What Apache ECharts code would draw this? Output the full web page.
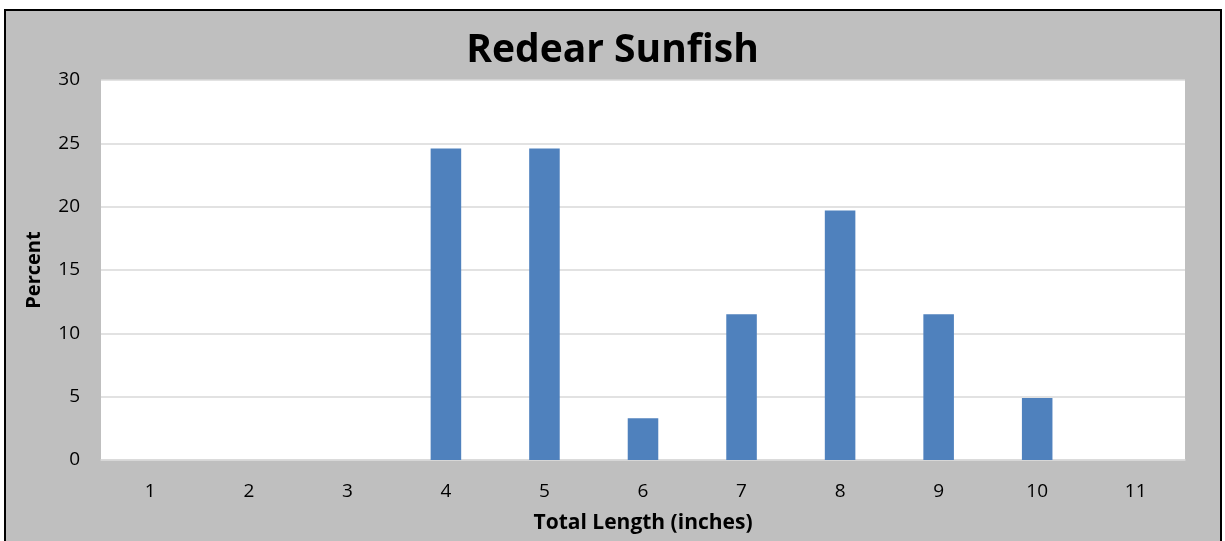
<!DOCTYPE html>
<html>
<head>
<meta charset="utf-8">
<script src="https://cdn.jsdelivr.net/npm/echarts@6/dist/echarts.min.js"></script>
<style>
html,body{margin:0;padding:0;background:#fff;width:1225px;height:541px;overflow:hidden;}
#frame{position:absolute;left:4px;top:9px;width:1214px;height:600px;border:2px solid #000;background:#BFBFBF;}
#chart{position:absolute;left:0;top:0;width:1225px;height:541px;}
</style>
</head>
<body>
<div id="frame"></div>
<div id="chart"></div>
<script>
const titleText = 'Redear Sunfish';
const categories = ['1','2','3','4','5','6','7','8','9','10','11'];
const percentValues = [0, 0, 0, 24.6, 24.6, 3.3, 11.5, 19.7, 11.5, 4.9, 0];
const yTicks = {min: 0, max: 30, interval: 5};
const xName = 'Total Length (inches)';
const yName = 'Percent';

const font = 'Open Sans, Lato, sans-serif';
const chart = echarts.init(document.getElementById('chart'), null, {renderer: 'canvas'});
chart.setOption({
  backgroundColor: 'transparent',
  animation: false,
  title: {
    text: titleText, left: 'center', top: 26,
    textStyle: {fontFamily: font, fontWeight: 'bold', fontSize: 39, color: '#000'}
  },
  grid: {left: 101, right: 40, top: 80, bottom: 81, show: true, backgroundColor: '#fff', borderWidth: 0,
         containLabel: false, outerBoundsMode: 'none'},
  xAxis: {
    type: 'category', data: categories,
    name: xName, nameLocation: 'middle', nameGap: 53,
    nameTextStyle: {fontFamily: font, fontWeight: 'bold', fontSize: 21, color: '#000'},
    axisLine: {show: true, lineStyle: {color: '#D9D9D9', width: 1.5}},
    axisTick: {show: false},
    axisLabel: {fontFamily: font, fontSize: 19, color: '#000', margin: 22}
  },
  yAxis: {
    type: 'value', min: yTicks.min, max: yTicks.max, interval: yTicks.interval,
    name: yName, nameLocation: 'middle', nameGap: 57, nameRotate: 90,
    nameTextStyle: {fontFamily: font, fontWeight: 'bold', fontSize: 20, color: '#000'},
    axisLine: {show: false}, axisTick: {show: false},
    axisLabel: {fontFamily: font, fontSize: 19, color: '#000', margin: 21},
    splitLine: {lineStyle: {color: '#D9D9D9', width: 1.5}}
  },
  series: [{
    type: 'bar', data: percentValues, barWidth: '31%',
    itemStyle: {color: '#4F81BD'}
  }]
});
</script>
</body>
</html>
